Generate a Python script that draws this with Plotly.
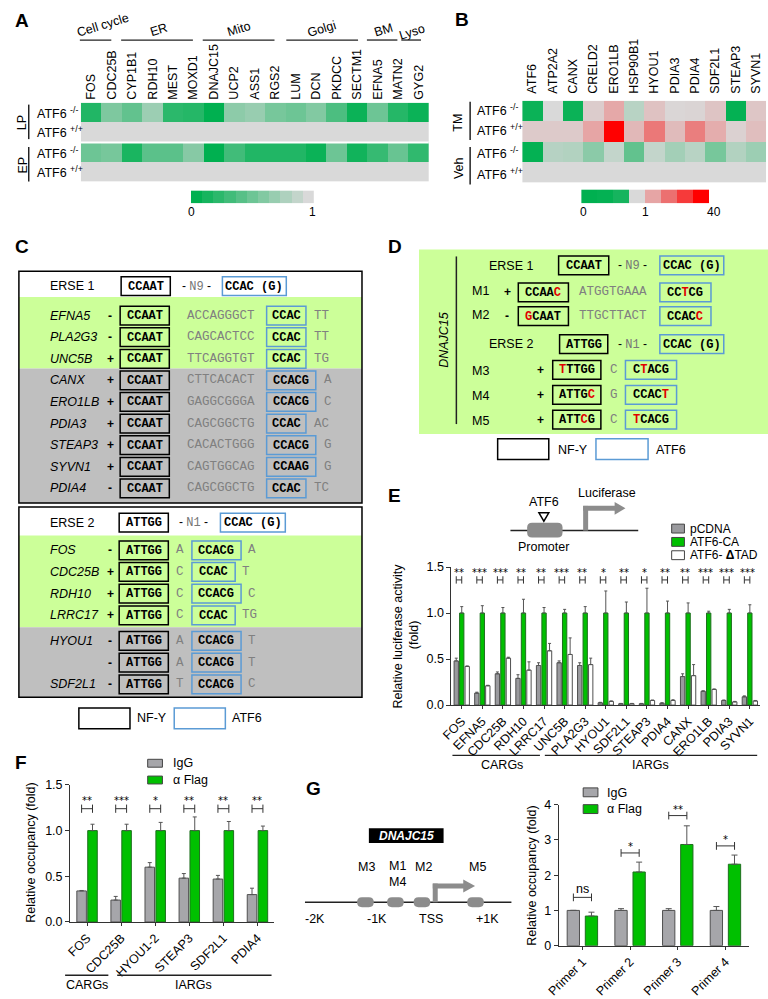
import math
import plotly.graph_objects as go

W, H = 768, 999
SANS = "Liberation Sans, Arial, sans-serif"
MONO = "Liberation Mono, Courier New, monospace"
GREEN_BG = "#ccff99"
GRAY_BG = "#bfbfbf"
BLUE = "#5b9bd5"

# ------------------------------------------------------------------ data
# Panel A
A_genes = ["FOS", "CDC25B", "CYP1B1", "RDH10", "MEST", "MOXD1", "DNAJC15", "UCP2", "ASS1",
           "RGS2", "LUM", "DCN", "PKDCC", "SECTM1", "EFNA5", "MATN2", "GYG2"]
A_lp_ko = [0.15, 0.58, 0.45, 0.72, 0.2, 0.17, 0.0, 0.65, 0.7, 0.55, 0.5, 0.6, 0.35, 0.05, 0.5, 0.17, 0.05]
A_lp_wt = [1, 1, 1, 1, 1, 1, 1, 1, 1, 1, 1, 1, 1, 1, 1, 1, 1]
A_ep_ko = [0.5, 0.55, 0.12, 0.42, 0.42, 0.62, 0.0, 0.3, 0.15, 0.15, 0.15, 0.05, 0.5, 0.08, 0.25, 0.48, 0.22]
A_ep_wt = [1, 1, 1, 1, 1, 1, 1, 1, 1, 1, 1, 1, 1, 1, 1, 1, 1]
A_rows = ["LP ATF6-/-", "LP ATF6+/+", "EP ATF6-/-", "EP ATF6+/+"]
A_scale = [0.0, 0.1, 0.2, 0.3, 0.4, 0.5, 0.6, 0.7, 0.8, 0.9, 1.0]
A_groups = ["Cell cycle", "ER", "Mito", "Golgi", "BM", "Lyso"]

# Panel B
B_genes = ["ATF6", "ATP2A2", "CANX", "CRELD2", "ERO1LB", "HSP90B1", "HYOU1", "PDIA3", "PDIA4",
           "SDF2L1", "STEAP3", "SYVN1"]
B_tm_ko = [0.05, 1.0, 0.05, 1.25, 2.4, 0.85, 1.5, 1.05, 1.1, 1.45, 0.02, 1.4]
B_tm_wt = [1.3, 1.3, 1.3, 2.5, 40, 1.8, 5.5, 1.7, 5.0, 2.2, 1.15, 1.6]
B_veh_ko = [0.02, 0.84, 0.82, 0.64, 0.9, 0.45, 0.9, 0.75, 0.85, 0.55, 0.82, 0.72]
B_veh_wt = [1, 1, 1, 1, 1, 1, 1, 1, 1, 1, 1, 1]
B_scale = [0.0, 0.02, 0.1, 1.0, 2.5, 6.3, 16, 40]

# Panel C
C1_genes = ["EFNA5", "PLA2G3", "UNC5B", "CANX", "ERO1LB", "PDIA3", "STEAP3", "SYVN1", "PDIA4"]
C1_strand = ["-", "-", "+", "+", "+", "+", "+", "+", "-"]
C1_nfy = ["CCAAT", "CCAAT", "CCAAT", "CCAAT", "CCAAT", "CCAAT", "CCAAT", "CCAAT", "CCAAT"]
C1_spacer = ["ACCAGGGCT", "CAGCACTCC", "TTCAGGTGT", "CTTCACACT", "GAGGCGGGA", "CAGCGGCTG",
             "CACACTGGG", "CAGTGGCAG", "CAGCGGCTG"]
C1_atf6 = ["CCAC", "CCAC", "CCAC", "CCACG", "CCACG", "CCAC", "CCACG", "CCAAG", "CCAC"]
C1_tail = ["TT", "TT", "TG", "A", "C", "AC", "G", "G", "TC"]
C1_n_green = 3

C2_genes = ["FOS", "CDC25B", "RDH10", "LRRC17", "HYOU1", "", "SDF2L1"]
C2_strand = ["-", "+", "+", "+", "-", "-", "-"]
C2_nfy = ["ATTGG", "ATTGG", "ATTGG", "ATTGG", "ATTGG", "ATTGG", "ATTGG"]
C2_mid = ["A", "C", "C", "C", "A", "A", "T"]
C2_atf6 = ["CCACG", "CCAC", "CCACG", "CCAC", "CCACG", "CCACG", "CCACG"]
C2_tail = ["A", "T", "C", "TG", "T", "T", "C"]
C2_n_green = 4

# Panel D (lower-case letter = mutated base, shown in red)
D_labels = ["M1", "M2", "M3", "M4", "M5"]
D_strand = ["+", "-", "+", "+", "+"]
D_nfy = ["CCAAc", "gCAAT", "tTTGG", "ATTGc", "ATTcG"]
D_spacer = ["ATGGTGAAA", "TTGCTTACT", "C", "G", "C"]
D_atf6 = ["CCtCG", "CCACc", "CtACG", "CCACt", "tCACG"]

# Panel E
E_genes = ["FOS", "EFNA5", "CDC25B", "RDH10", "LRRC17", "UNC5B", "PLA2G3", "HYOU1", "SDF2L1",
           "STEAP3", "PDIA4", "CANX", "ERO1LB", "PDIA3", "SYVN1"]
E_pcdna = [0.48, 0.13, 0.34, 0.29, 0.43, 0.46, 0.43, 0.025, 0.015, 0.015, 0.02, 0.31, 0.15, 0.05, 0.09]
E_pcdna_err = [0.03, 0.01, 0.02, 0.04, 0.03, 0.02, 0.03, 0.005, 0.003, 0.003, 0.005, 0.03, 0.005, 0.005, 0.01]
E_ca = [1.0, 1.0, 1.0, 1.0, 1.0, 1.0, 1.0, 1.0, 1.0, 1.0, 1.0, 1.0, 1.0, 1.0, 1.0]
E_ca_err = [0.07, 0.08, 0.06, 0.15, 0.06, 0.04, 0.07, 0.24, 0.12, 0.27, 0.13, 0.11, 0.02, 0.04, 0.09]
E_dtad = [0.42, 0.21, 0.51, 0.38, 0.59, 0.55, 0.44, 0.04, 0.015, 0.05, 0.05, 0.32, 0.17, 0.035, 0.045]
E_dtad_err = [0.005, 0.005, 0.01, 0.09, 0.08, 0.18, 0.07, 0.005, 0.003, 0.005, 0.008, 0.12, 0.005, 0.005, 0.005]
E_sig = ["**", "***", "***", "**", "**", "***", "**", "*", "**", "*", "**", "**", "***", "***", "***"]
E_series = ["pCDNA", "ATF6-CA", "ATF6- <b>Δ</b>TAD"]

# Panel F
F_genes = ["FOS", "CDC25B", "HYOU1-2", "STEAP3", "SDF2L1", "PDIA4"]
F_igg = [0.34, 0.24, 0.60, 0.48, 0.47, 0.30]
F_igg_err = [0.005, 0.04, 0.05, 0.05, 0.04, 0.07]
F_flag = [1.0, 1.0, 1.0, 1.0, 1.0, 1.0]
F_flag_err = [0.07, 0.07, 0.09, 0.15, 0.10, 0.05]
F_sig = ["**", "***", "*", "**", "**", "**"]

# Panel G
G_primers = ["Primer 1", "Primer 2", "Primer 3", "Primer 4"]
G_igg = [1.0, 1.0, 1.0, 1.0]
G_igg_err = [0.0, 0.05, 0.05, 0.11]
G_flag = [0.84, 2.09, 2.87, 2.31]
G_flag_err = [0.11, 0.28, 0.53, 0.26]
G_sig = ["ns", "*", "**", "*"]
G_bracket_y = [1.37, 2.63, 3.69, 2.83]
G_sites = ["M3", "M1<br>M4", "M2", "M5"]
G_coords = ["-2K", "-1K", "TSS", "+1K"]


# ------------------------------------------------------------------ helpers
def X(px):
    return px / W


def Y(py):
    return 1 - py / H


shapes, annos = [], []


def R(x0, y0, x1, y1, fill=None, line=None, lw=1.0):
    shapes.append(dict(type="rect", xref="paper", yref="paper", x0=X(x0), x1=X(x1), y0=Y(y1), y1=Y(y0),
                       fillcolor=fill if fill else "rgba(0,0,0,0)",
                       line=dict(color=line if line else "rgba(0,0,0,0)", width=lw if line else 0)))


def L(x0, y0, x1, y1, color="black", w=1.0):
    shapes.append(dict(type="line", xref="paper", yref="paper", x0=X(x0), y0=Y(y0), x1=X(x1), y1=Y(y1),
                       line=dict(color=color, width=w)))


def P(points, fill, line=None, lw=1.0):
    d = "M " + " L ".join(f"{X(a):.5f},{Y(b):.5f}" for a, b in points) + " Z"
    shapes.append(dict(type="path", xref="paper", yref="paper", path=d, fillcolor=fill,
                       line=dict(color=line if line else "rgba(0,0,0,0)", width=lw if line else 0)))


def PILL(x0, y0, x1, y1, r, fill):
    def p(a, b):
        return f"{X(a):.5f},{Y(b):.5f}"
    d = (f"M {p(x0 + r, y0)} L {p(x1 - r, y0)} Q {p(x1, y0)} {p(x1, y0 + r)} L {p(x1, y1 - r)} "
         f"Q {p(x1, y1)} {p(x1 - r, y1)} L {p(x0 + r, y1)} Q {p(x0, y1)} {p(x0, y1 - r)} "
         f"L {p(x0, y0 + r)} Q {p(x0, y0)} {p(x0 + r, y0)} Z")
    shapes.append(dict(type="path", xref="paper", yref="paper", path=d, fillcolor=fill, line=dict(width=0)))


def T(x, y, s, size=12, color="black", xa="center", ya="middle", fam=SANS, angle=0):
    annos.append(dict(xref="paper", yref="paper", x=X(x), y=Y(y), text=s, showarrow=False,
                      xanchor=xa, yanchor=ya, font=dict(size=size, color=color, family=fam),
                      textangle=angle, borderpad=0))


def seq_html(s):
    out = ""
    for ch in s:
        if ch.islower():
            out += '<span style="color:#e00000">' + ch.upper() + "</span>"
        else:
            out += ch
    return "<b>" + out + "</b>"


def seq_box(x0, x1, yc, s, border, fill=None, h=19):
    R(x0, yc - h / 2, x1, yc + h / 2, fill, border, 1.5)
    T((x0 + x1) / 2, yc + 0.5, seq_html(s), 12, fam=MONO)


def DBR(xref, yref, xa, xb, y, d):
    for (a0, b0, a1, b1) in [(xa, y, xb, y), (xa, y - d, xa, y + d), (xb, y - d, xb, y + d)]:
        shapes.append(dict(type="line", xref=xref, yref=yref, x0=a0, y0=b0, x1=a1, y1=b1,
                           line=dict(color="#333333", width=1)))


def DT(xref, yref, x, y, s, size=11, fam="DejaVu Sans, sans-serif"):
    annos.append(dict(xref=xref, yref=yref, x=x, y=y, text=s, showarrow=False, xanchor="center",
                      yanchor="middle", font=dict(size=size, color="black", family=fam)))


traces = []

# ------------------------------------------------------------------ panel letters
for lab, (lx, ly) in zip("ABCDEFG", [(9, 14), (457, 13), (9, 243), (389, 243), (388, 495), (8, 766), (306, 793)]):
    T(lx, ly, "<b>" + lab + "</b>", 19)

# ------------------------------------------------------------------ panel A
A_cs = [[0, "rgb(0,176,80)"], [1, "rgb(217,217,217)"]]
traces.append(go.Heatmap(z=[A_lp_ko, A_lp_wt, A_ep_ko, A_ep_wt], x=A_genes, y=[0, 1, 2, 3],
                         colorscale=A_cs, zmin=0, zmax=1, showscale=False, xaxis="x", yaxis="y",
                         hoverinfo="skip"))
traces.append(go.Heatmap(z=[A_scale], x=list(range(len(A_scale))), y=[0], colorscale=A_cs, zmin=0, zmax=1,
                         showscale=False, xaxis="x2", yaxis="y2", hoverinfo="skip"))
L(69, 137.5, 423, 137.5, "white", 2)
A_glines = [(68, 100), (110, 183), (193, 266), (278, 351), (360, 391), (395, 415)]
A_gtext = [(92, 18), (148, 23), (230, 22), (314, 22), (377, 23), (406, 25)]
for g, (a, b), (tx, ty) in zip(A_groups, A_glines, A_gtext):
    L(a, 33.5, b, 33.5, "#222", 1.3)
    T(tx, ty, g, 12.5, angle=-17)
for yc, lab in zip([107, 127, 148, 167.5], ["-/-", "+/+", "-/-", "+/+"]):
    T(23, yc, "ATF6 <sup>" + lab + "</sup>", 12.5, xa="left")
L(16, 99, 16, 134, "#222", 1.5)
L(16, 142, 16, 177, "#222", 1.5)
T(10, 117, "LP", 12.5, angle=-90)
T(10, 160, "EP", 12.5, angle=-90)
T(182, 208, "0", 12)
T(305, 208, "1", 12)

# ------------------------------------------------------------------ panel B
def tB(v):
    if v <= 1:
        return 0.5 * v
    return 0.5 + 0.5 * math.log(v) / math.log(40)


B_cs = [[0, "rgb(0,176,80)"], [0.5, "rgb(217,217,217)"], [0.625, "rgb(230,165,165)"],
        [0.75, "rgb(236,112,112)"], [0.875, "rgb(246,58,58)"], [1, "rgb(255,0,0)"]]
B_z = [[tB(v) for v in row] for row in [B_tm_ko, B_tm_wt, B_veh_ko, B_veh_wt]]
traces.append(go.Heatmap(z=B_z, x=B_genes, y=[0, 1, 2, 3], colorscale=B_cs, zmin=0, zmax=1,
                         showscale=False, xaxis="x3", yaxis="y3", hoverinfo="skip"))
traces.append(go.Heatmap(z=[[tB(v) for v in B_scale]], x=list(range(len(B_scale))), y=[0], colorscale=B_cs,
                         zmin=0, zmax=1, showscale=False, xaxis="x4", yaxis="y4", hoverinfo="skip"))
for yc, lab in zip([104, 125, 148, 169], ["-/-", "+/+", "-/-", "+/+"]):
    T(471, yc, "ATF6 <sup>" + lab + "</sup>", 12.5, xa="left")
L(465, 96, 465, 135, "#222", 1.5)
L(465, 142, 465, 180, "#222", 1.5)
T(453, 117, "TM", 12.5, angle=-90)
T(453, 163, "Veh", 12.5, angle=-90)
T(580, 208, "0", 12)
T(643, 208, "1", 12)
T(713, 208, "40", 12)

# ------------------------------------------------------------------ panel C
def dash_n(n):
    return '- <span style="font-family:Liberation Mono;color:#777777">' + n + "</span> -"


# box 1
c1_y = [313 + 21.9 * i for i in range(len(C1_genes))]
R(6, 294, 355, 294 + 21.9 * C1_n_green + 7, GREEN_BG)
R(6, 294 + 21.9 * C1_n_green + 7, 355, 503, GRAY_BG)
T(37, 283, "ERSE 1", 12.5, xa="left")
seq_box(110, 160, 283, "CCAAT", "black", "white")
T(187, 283, dash_n("N9"), 12)
seq_box(213, 278, 283, "CCAC (G)", BLUE, "white")
for i, yc in enumerate(c1_y):
    T(37, yc, "<i>" + C1_genes[i] + "</i>", 12.5, xa="left")
    T(99, yc, "<b>" + C1_strand[i] + "</b>", 12)
    seq_box(109, 159, yc, C1_nfy[i], "black")
    T(176, yc, C1_spacer[i], 12.5, "#808080", xa="left", fam=MONO)
    bw = 40 if len(C1_atf6[i]) == 4 else 50
    seq_box(258, 258 + bw, yc, C1_atf6[i], BLUE)
    T(258 + bw + 7, yc, C1_tail[i], 12.5, "#808080", xa="left", fam=MONO)
R(6, 268, 355, 503, None, "black", 1.5)

# box 2
c2_y = [551 + 22 * i for i in range(C2_n_green)] + [643 + 22 * i for i in range(len(C2_genes) - C2_n_green)]
R(6, 536, 355, 629, GREEN_BG)
R(6, 629, 355, 700, GRAY_BG)
T(37, 523, "ERSE 2", 12.5, xa="left")
seq_box(108, 158, 523, "ATTGG", "black", "white")
T(184, 523, dash_n("N1"), 12)
seq_box(211, 277, 523, "CCAC (G)", BLUE, "white")
for i, yc in enumerate(c2_y):
    T(37, yc, "<i>" + C2_genes[i] + "</i>", 12.5, xa="left")
    T(99, yc, "<b>" + C2_strand[i] + "</b>", 12)
    seq_box(108, 158, yc, C2_nfy[i], "black")
    T(170, yc, C2_mid[i], 12.5, "#808080", fam=MONO)
    bw = 44 if len(C2_atf6[i]) == 4 else 50
    seq_box(182, 182 + bw, yc, C2_atf6[i], BLUE)
    T(182 + bw + 6, yc, C2_tail[i], 12.5, "#808080", xa="left", fam=MONO)
R(6, 507, 355, 700, None, "black", 1.5)

# legend C
R(67, 711, 119, 732, "white", "black", 1.5)
T(125, 721, "NF-Y", 12.5, xa="left")
R(164, 711, 216, 732, "white", BLUE, 1.5)
T(222, 721, "ATF6", 12.5, xa="left")

# ------------------------------------------------------------------ panel D
R(413, 246, 768, 433, GREEN_BG)
L(451, 253, 451, 423, "#222", 1.5)
T(439, 338, "<i>DNAJC15</i>", 12.5, angle=-90)
T(483, 263, "ERSE 1", 12.5, xa="left")
seq_box(555, 606, 262, "CCAAT", "black")
T(630, 262, dash_n("N9"), 12)
seq_box(658, 723, 262, "CCAC (G)", BLUE)
T(483, 342, "ERSE 2", 12.5, xa="left")
seq_box(556, 605, 342, "ATTGG", "black")
T(630, 342, dash_n("N1"), 12)
seq_box(658, 723, 342, "CCAC (G)", BLUE)
D_y = [289.5, 313.5, 368, 393.5, 418.5]
for i, yc in enumerate(D_y):
    T(466, yc - 1.5 if i < 2 else yc + 1, D_labels[i], 12.5, xa="left")
    if i < 2:
        T(503, yc, "<b>" + D_strand[i] + "</b>", 12)
        seq_box(514, 565, yc, D_nfy[i], "black")
        T(575, yc, D_spacer[i], 12.5, "#808080", xa="left", fam=MONO)
        seq_box(658, 710, yc, D_atf6[i], BLUE)
    else:
        T(537, yc, "<b>" + D_strand[i] + "</b>", 12)
        seq_box(549, 598, yc, D_nfy[i], "black")
        T(611, yc, D_spacer[i], 12.5, "#808080", fam=MONO)
        seq_box(623, 675, yc, D_atf6[i], BLUE)
R(493, 438, 545, 459, "white", "black", 1.5)
T(553, 449, "NF-Y", 12.5, xa="left")
R(593, 438, 646, 459, "white", BLUE, 1.5)
T(653, 449, "ATF6", 12.5, xa="left")

# ------------------------------------------------------------------ panel E diagram
L(506, 531, 636, 531, "#222", 1.5)
PILL(523, 523, 559, 538, 5, "#8c8c8c")
P([(535, 513), (545, 513), (540, 521.5)], "white", "black", 1.5)
T(540, 502, "ATF6", 12.5)
T(540, 548, "Promoter", 12.5)
L(582.5, 531, 582.5, 506, "#8c8c8c", 5)
L(580, 508.5, 613, 508.5, "#8c8c8c", 5)
P([(612, 502), (623, 508.5), (612, 515)], "#8c8c8c")
T(604, 493, "Luciferase", 12.5)

# E legend
E_colors = ["#9a9a9e", "#00c000", "white"]
for yc, name, col in zip([529, 542.5, 556], E_series, E_colors):
    R(670, yc - 4.5, 683, yc + 4.5, col, "#444444", 1)
    T(688, yc, name, 12, xa="left")

# E bars
zeros15 = [0] * len(E_genes)
for vals, errs, col, lcol, off in [(E_pcdna, E_pcdna_err, "#9a9a9e", "#505050", -0.372),
                                   (E_ca, E_ca_err, "#00c000", "#1f6f1f", -0.105),
                                   (E_dtad, E_dtad_err, "white", "#505050", 0.162)]:
    traces.append(go.Bar(x=E_genes, y=vals, width=0.21, offset=off,
                         marker=dict(color=col, line=dict(color=lcol, width=1)),
                         error_y=dict(type="data", array=errs, arrayminus=zeros15, symmetric=False,
                                      color="#555555", thickness=1, width=1.5),
                         xaxis="x5", yaxis="y5", showlegend=False, hoverinfo="skip"))
for i, s in enumerate(E_sig):
    DBR("x5", "y5", i - 0.267, i, 1.36, 0.04)
    DT("x5", "y5", i - 0.133, 1.445, s, 10)
T(392, 638, "Relative luciferase activity", 12.5, angle=-90)
T(408, 637, "(fold)", 12.5, angle=-90)
L(447, 759, 536, 759, "#222", 1.3)
L(541, 759, 757, 759, "#222", 1.3)
T(497, 769, "CARGs", 12.5)
T(648, 769, "IARGs", 12.5)

# ------------------------------------------------------------------ panel F
zeros6 = [0] * len(F_genes)
for vals, errs, col, lcol, off in [(F_igg, F_igg_err, "#a6a6aa", "#505050", -0.30),
                                   (F_flag, F_flag_err, "#00c000", "#1f6f1f", 0.02)]:
    traces.append(go.Bar(x=F_genes, y=vals, width=0.28, offset=off,
                         marker=dict(color=col, line=dict(color=lcol, width=1)),
                         error_y=dict(type="data", array=errs, arrayminus=zeros6, symmetric=False,
                                      color="#555555", thickness=1, width=2),
                         xaxis="x6", yaxis="y6", showlegend=False, hoverinfo="skip"))
for i, s in enumerate(F_sig):
    DBR("x6", "y6", i - 0.16, i + 0.16, 1.24, 0.045)
    DT("x6", "y6", i, 1.335, s, 10)
R(137, 763, 152, 771, "#a6a6aa", "#444444", 1)
T(162, 767, "IgG", 12.5, xa="left")
R(137, 780, 152, 788, "#00c000", "#444444", 1)
T(162, 784, "α Flag", 12.5, xa="left")
T(18, 858, "Relative occupancy (fold)", 12.5, angle=-90)
L(53, 982, 97, 982, "#222", 1.3)
L(106, 982, 263, 982, "#222", 1.3)
T(75, 992, "CARGs", 12.5)
T(184, 992, "IARGs", 12.5)

# ------------------------------------------------------------------ panel G diagram
R(362, 833, 438, 848, "black")
T(400, 840.5, "<b><i>DNAJC15</i></b>", 12, "white")
L(297, 908, 507, 908, "#222", 1.5)
for cx in [358.5, 389, 416, 470.5]:
    PILL(cx - 8.5, 903, cx + 8.5, 913, 5, "#8c8c8c")
L(429.5, 908, 429.5, 889, "#8c8c8c", 5)
L(427, 891.5, 459, 891.5, "#8c8c8c", 5)
P([(458, 885), (470, 891.5), (458, 898)], "#8c8c8c")
for s, (tx, ty) in zip(G_sites, [(360, 872), (391, 879.5), (418, 872), (472, 872)]):
    T(tx, ty, s, 12.5)
for s, tx in zip(G_coords, [307, 370, 425, 483]):
    T(tx, 925, s, 12.5)

# G bars
zeros4 = [0] * len(G_primers)
for vals, errs, col, lcol, off in [(G_igg, G_igg_err, "#a6a6aa", "#505050", -0.32),
                                   (G_flag, G_flag_err, "#00c000", "#1f6f1f", 0.06)]:
    traces.append(go.Bar(x=G_primers, y=vals, width=0.258, offset=off,
                         marker=dict(color=col, line=dict(color=lcol, width=1)),
                         error_y=dict(type="data", array=errs, arrayminus=zeros4, symmetric=False,
                                      color="#555555", thickness=1, width=3),
                         xaxis="x7", yaxis="y7", showlegend=False, hoverinfo="skip"))
for i, s in enumerate(G_sig):
    DBR("x7", "y7", i - 0.19, i + 0.19, G_bracket_y[i], 0.11)
    if s == "ns":
        DT("x7", "y7", i, G_bracket_y[i] + 0.25, s, 12.5, SANS)
    else:
        DT("x7", "y7", i, G_bracket_y[i] + 0.17, s, 10)
R(580, 792, 595, 801, "#a6a6aa", "#444444", 1)
T(603, 797, "IgG", 12.5, xa="left")
R(580, 809, 595, 818, "#00c000", "#444444", 1)
T(603, 813, "α Flag", 12.5, xa="left")
T(528, 881, "Relative occupancy (fold)", 12.5, angle=-90)

# ------------------------------------------------------------------ layout
hidden = dict(visible=False, showgrid=False, zeroline=False)


def bar_x(domain, anchor, rng):
    return dict(domain=domain, anchor=anchor, type="category", range=rng, showline=True, linecolor="#333333",
                linewidth=1, ticks="outside", ticklen=3, tickcolor="#333333", tickangle=-45,
                tickfont=dict(size=12.5, family=SANS, color="black"), showgrid=False, zeroline=False)


def bar_y(domain, anchor, rng, vals, fmt):
    return dict(domain=domain, anchor=anchor, range=rng, tickvals=vals, tickformat=fmt, showline=True,
                linecolor="#333333", linewidth=1, ticks="outside", ticklen=4, tickcolor="#333333",
                tickfont=dict(size=12.5, family=SANS, color="black"), showgrid=False, zeroline=False)


layout = go.Layout(
    width=W, height=H, autosize=False, margin=dict(l=0, r=0, t=0, b=0, pad=0),
    paper_bgcolor="white", plot_bgcolor="rgba(0,0,0,0)", barmode="overlay",
    font=dict(family=SANS, size=12, color="black"), showlegend=False,
    xaxis=dict(domain=[X(69), X(423)], anchor="y", side="top", tickangle=-90, ticks="",
               tickfont=dict(size=12.5, family=SANS, color="black"), showgrid=False, zeroline=False,
               showline=False, ticklabelstandoff=2),
    yaxis=dict(domain=[Y(177), Y(97)], anchor="x", range=[3.5, -0.5], **hidden),
    xaxis2=dict(domain=[X(181), X(306)], anchor="y2", **hidden),
    yaxis2=dict(domain=[Y(199), Y(186)], anchor="x2", **hidden),
    xaxis3=dict(domain=[X(518), X(766)], anchor="y3", side="top", tickangle=-90, ticks="",
                tickfont=dict(size=12.5, family=SANS, color="black"), showgrid=False, zeroline=False,
                showline=False, ticklabelstandoff=6),
    yaxis3=dict(domain=[Y(178), Y(95)], anchor="x3", range=[3.5, -0.5], **hidden),
    xaxis4=dict(domain=[X(578), X(708)], anchor="y4", **hidden),
    yaxis4=dict(domain=[Y(199), Y(185)], anchor="x4", **hidden),
    xaxis5=bar_x([X(446), X(760)], "y5", [-0.5, 14.5]),
    yaxis5=bar_y([Y(708), Y(568)], "x5", [0, 1.5], [0, 0.5, 1.0, 1.5], ".1f"),
    xaxis6=bar_x([X(58), X(266)], "y6", [-0.5, 5.5]),
    yaxis6=bar_y([Y(928), Y(789)], "x6", [0, 1.5], [0, 0.5, 1.0, 1.5], ".1f"),
    xaxis7=bar_x([X(555), X(749)], "y7", [-0.5, 3.5]),
    yaxis7=bar_y([Y(952), Y(809)], "x7", [0, 4], [0, 1, 2, 3, 4], "d"),
    shapes=shapes, annotations=annos,
)

fig = go.Figure(data=traces, layout=layout)
fig.write_html("out.html", config={"displayModeBar": False, "staticPlot": True},
               post_script="document.body.style.margin='0';document.body.style.overflow='hidden';")
